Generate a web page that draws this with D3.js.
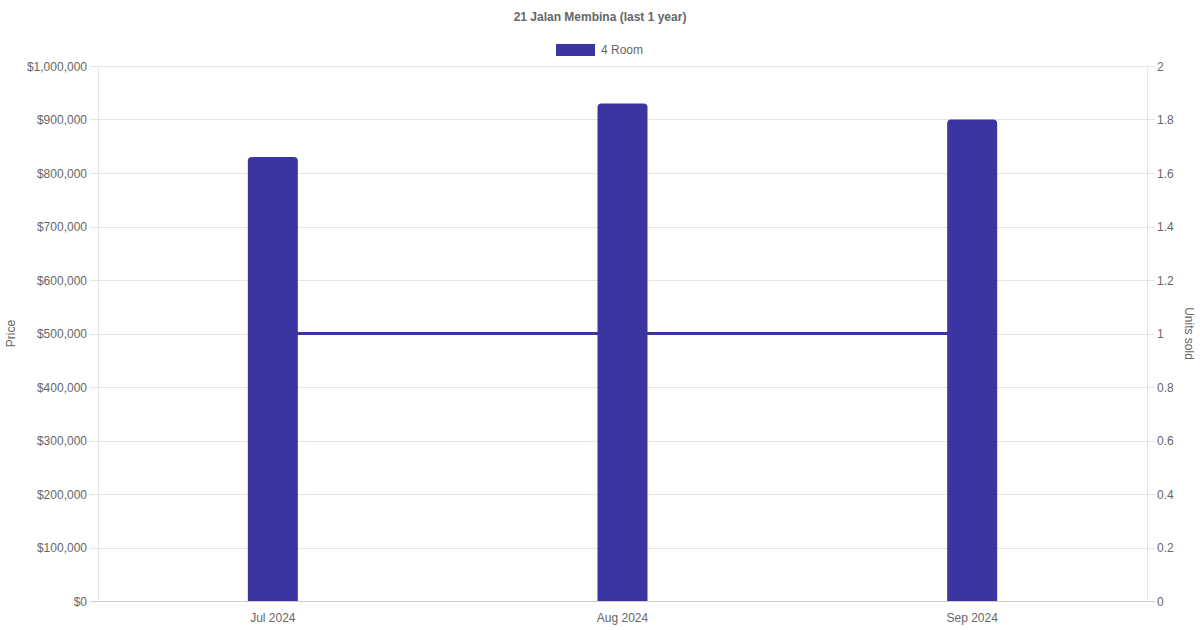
<!DOCTYPE html>
<html>
<head>
<meta charset="utf-8">
<script src="https://cdn.jsdelivr.net/npm/d3@7"></script>
<style>
  body { margin: 0; background: #fff; }
  text { font-family: "Liberation Sans", Arial, sans-serif; fill: #666; }
</style>
</head>
<body>
<div id="canvas"></div>
<script>
const months = ["Jul 2024", "Aug 2024", "Sep 2024"];
const prices = [830000, 930000, 900000];
const unitsSold = [1, 1, 1];
const priceTicks = [0, 100000, 200000, 300000, 400000, 500000, 600000, 700000, 800000, 900000, 1000000];
const unitTicks = [0, 0.2, 0.4, 0.6, 0.8, 1, 1.2, 1.4, 1.6, 1.8, 2];
const seriesName = "4 Room";

const width = 1200, height = 630;
const margin = { top: 66, left: 98, bottom: 29, right: 53 };
const iwidth = width - margin.left - margin.right;
const iheight = height - margin.top - margin.bottom;
const color = "#3a35a0";

const svg = d3.select("#canvas").append("svg")
  .attr("width", width)
  .attr("height", height);

svg.append("text")
  .attr("x", width / 2).attr("y", 21)
  .attr("text-anchor", "middle")
  .style("font-size", "12px").style("font-weight", "bold")
  .text("21 Jalan Membina (last 1 year)");

// legend
svg.append("rect")
  .attr("x", 556).attr("y", 44).attr("width", 39).attr("height", 12)
  .attr("fill", color);
svg.append("text")
  .attr("x", 601).attr("y", 54)
  .style("font-size", "12px")
  .text(seriesName);

const g = svg.append("g").attr("transform", `translate(${margin.left},${margin.top})`);

const x = d3.scaleBand().domain(months).range([0, iwidth]);
const y = d3.scaleLinear().domain([0, 1000000]).range([iheight, 0]);
const y2 = d3.scaleLinear().domain([0, 2]).range([iheight, 0]);

// grid
g.append("g").selectAll("line").data(priceTicks).enter().append("line")
  .attr("x1", -8).attr("x2", iwidth + 8)
  .attr("y1", d => Math.round(y(d)) + 0.5).attr("y2", d => Math.round(y(d)) + 0.5)
  .attr("stroke", d => d === 0 ? "#ccc" : "#e5e5e5");

g.append("line")
  .attr("x1", 0.5).attr("x2", 0.5).attr("y1", 0).attr("y2", iheight)
  .attr("stroke", "#e5e5e5");
g.append("line")
  .attr("x1", iwidth + 0.5).attr("x2", iwidth + 0.5).attr("y1", 0).attr("y2", iheight)
  .attr("stroke", "#e5e5e5");

// axes
const yAxis = g.append("g")
  .call(d3.axisLeft(y).tickValues(priceTicks).tickSize(0).tickPadding(11)
    .tickFormat(d => "$" + d3.format(",")(d)));
const y2Axis = g.append("g")
  .attr("transform", `translate(${iwidth},0)`)
  .call(d3.axisRight(y2).tickValues(unitTicks).tickSize(0).tickPadding(10)
    .tickFormat(d => d3.format("~g")(d)));
const xAxis = g.append("g")
  .attr("transform", `translate(0,${iheight})`)
  .call(d3.axisBottom(x).tickSize(0).tickPadding(12));

[yAxis, y2Axis, xAxis].forEach(a => {
  a.select(".domain").remove();
  a.selectAll("text").style("font-size", "12px").attr("fill", "#666")
    .style("font-family", '"Liberation Sans", Arial, sans-serif');
});
yAxis.selectAll("text").attr("dy", "0.35em");
y2Axis.selectAll("text").attr("dy", "0.35em");

// units line (behind bars)
const line = d3.line()
  .x((d, i) => x(months[i]) + x.bandwidth() / 2)
  .y(d => y2(d));
g.append("path")
  .datum(unitsSold)
  .attr("d", line)
  .attr("fill", "none")
  .attr("stroke", color)
  .attr("stroke-width", 3);

// bars with rounded top
const barW = 50, r = 4;
g.selectAll(".bar").data(prices).enter().append("path")
  .attr("class", "bar")
  .attr("fill", color)
  .attr("d", (d, i) => {
    const x0 = x(months[i]) + x.bandwidth() / 2 - barW / 2;
    const x1 = x0 + barW;
    const yt = y(d), yb = y(0);
    return `M${x0},${yb}V${yt + r}Q${x0},${yt} ${x0 + r},${yt}H${x1 - r}Q${x1},${yt} ${x1},${yt + r}V${yb}Z`;
  });

// axis titles
svg.append("text")
  .attr("transform", `translate(15,${margin.top + iheight / 2}) rotate(-90)`)
  .attr("text-anchor", "middle")
  .style("font-size", "12px")
  .text("Price");
svg.append("text")
  .attr("transform", `translate(1185,${margin.top + iheight / 2}) rotate(90)`)
  .attr("text-anchor", "middle")
  .style("font-size", "12px")
  .text("Units sold");
</script>
</body>
</html>
